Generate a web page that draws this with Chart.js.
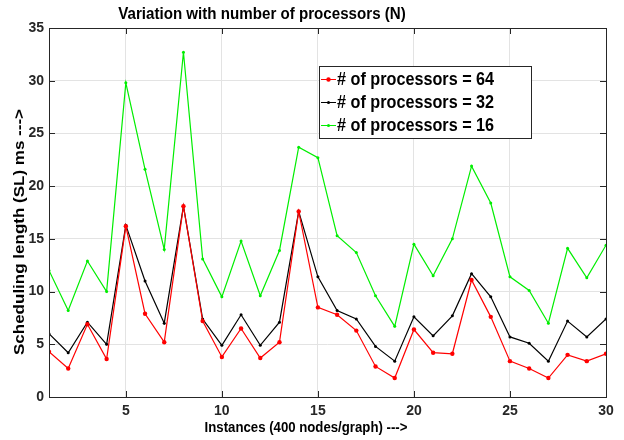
<!DOCTYPE html>
<html>
<head>
<meta charset="utf-8">
<script src="https://cdn.jsdelivr.net/npm/chart.js@4.4.1/dist/chart.umd.min.js"></script>
<style>
  html, body { margin: 0; padding: 0; background: #fff; }
  #wrap { width: 624px; height: 440px; }
</style>
</head>
<body>
<div id="wrap"><canvas id="slChart" width="624" height="440"></canvas></div>
<script>
// data
const instances = [1, 2, 3, 4, 5, 6, 7, 8, 9, 10, 11, 12, 13, 14, 15, 16, 17, 18, 19, 20, 21, 22, 23, 24, 25, 26, 27, 28, 29, 30];
const xTicks = [5, 10, 15, 20, 25, 30];
const yTicks = [0, 5, 10, 15, 20, 25, 30, 35];
const procs64 = [4.3, 2.7, 6.9, 3.6, 16.2, 7.9, 5.2, 18.1, 7.2, 3.8, 6.5, 3.7, 5.2, 17.6, 8.5, 7.8, 6.3, 2.9, 1.8, 6.4, 4.2, 4.1, 11.1, 7.6, 3.4, 2.7, 1.8, 4.0, 3.4, 4.1];
const procs32 = [6.0, 4.2, 7.1, 5.0, 16.3, 11.0, 7.0, 18.1, 7.4, 4.9, 7.8, 4.9, 7.1, 17.6, 11.4, 8.2, 7.4, 4.8, 3.4, 7.6, 5.8, 7.7, 11.7, 9.5, 5.7, 5.1, 3.4, 7.2, 5.7, 7.4];
const procs16 = [12.0, 8.2, 12.9, 10.0, 29.8, 21.6, 14.0, 32.7, 13.1, 9.5, 14.8, 9.6, 13.9, 23.7, 22.7, 15.3, 13.7, 9.6, 6.7, 14.5, 11.5, 15.0, 21.9, 18.4, 11.4, 10.1, 7.0, 14.1, 11.3, 14.4];

const seriesLabels = ['# of processors = 64', '# of processors = 32', '# of processors = 16'];
const seriesColors = ['#ff0000', '#000000', '#00ee00'];

const FONT = "'Liberation Sans', Arial, sans-serif";

function toPoints(vals) {
    return instances.map((x, i) => ({ x: x, y: vals[i] }));
}

// text squeezed horizontally (the source figure is narrow)
function narrowText(ctx, txt, x, y, sx, sy, angle) {
    ctx.save();
    ctx.translate(x, y);
    if (angle) ctx.rotate(angle);
    ctx.scale(sx, sy);
    ctx.fillText(txt, 0, 0);
    ctx.restore();
}

// box, inward ticks, title, axis titles and boxed legend (matlab look)
const matlabFrame = {
    id: 'matlabFrame',
    afterDraw(chart) {
        const ctx = chart.ctx;
        const a = chart.chartArea;
        const xs = chart.scales.x, ys = chart.scales.y;
        ctx.save();
        ctx.strokeStyle = '#262626';
        ctx.lineWidth = 1;
        ctx.strokeRect(Math.round(a.left) + 0.5, Math.round(a.top) + 0.5, Math.round(a.right - a.left), Math.round(a.bottom - a.top));
        ctx.beginPath();
        xTicks.forEach(v => {
            const px = Math.round(xs.getPixelForValue(v)) + 0.5;
            ctx.moveTo(px, a.top); ctx.lineTo(px, a.top + 6);
            ctx.moveTo(px, a.bottom); ctx.lineTo(px, a.bottom - 6);
        });
        yTicks.forEach(v => {
            const py = Math.round(ys.getPixelForValue(v)) + 0.5;
            ctx.moveTo(a.left, py); ctx.lineTo(a.left + 6, py);
            ctx.moveTo(a.right, py); ctx.lineTo(a.right - 6, py);
        });
        ctx.stroke();

        ctx.fillStyle = '#000';
        ctx.textAlign = 'center';
        ctx.textBaseline = 'middle';
        ctx.font = 'bold 17px ' + FONT;
        narrowText(ctx, 'Variation with number of processors (N)', 262, 14, 0.89, 1);

        ctx.font = 'bold 15px ' + FONT;
        narrowText(ctx, 'Instances (400 nodes/graph) --->', 306, 428, 0.88, 1);

        ctx.font = 'bold 17px ' + FONT;
        narrowText(ctx, 'Scheduling length (SL) ms --->', 20, 232, 1, 0.85, -Math.PI / 2);

        // legend
        const lx = 319.5, ly = 66.5, lw = 212, lh = 72;
        ctx.fillStyle = '#fff';
        ctx.fillRect(lx, ly, lw, lh);
        ctx.strokeStyle = '#262626';
        ctx.strokeRect(lx, ly, lw, lh);
        ctx.font = 'bold 18px ' + FONT;
        ctx.textAlign = 'left';
        chart.data.datasets.forEach((ds, i) => {
            const cy = 79 + i * 23;
            ctx.strokeStyle = ds.borderColor;
            ctx.beginPath();
            ctx.moveTo(321, cy + 0.5); ctx.lineTo(336, cy + 0.5);
            ctx.stroke();
            ctx.fillStyle = ds.borderColor;
            ctx.beginPath();
            ctx.arc(328.5, cy + 0.5, ds.pointRadius, 0, Math.PI * 2);
            ctx.fill();
            ctx.fillStyle = '#000';
            narrowText(ctx, ds.label, 337, cy + 1, 0.9, 1);
        });
        ctx.restore();
    }
};

const ctx = document.getElementById('slChart').getContext('2d');
const slChart = new Chart(ctx, {
    type: 'line',
    data: {
        datasets: [
            { label: seriesLabels[0], data: toPoints(procs64), borderColor: seriesColors[0], backgroundColor: seriesColors[0], borderWidth: 1.2, pointRadius: 2.2, pointBorderWidth: 0, tension: 0 },
            { label: seriesLabels[1], data: toPoints(procs32), borderColor: seriesColors[1], backgroundColor: seriesColors[1], borderWidth: 1.2, pointRadius: 1.5, pointBorderWidth: 0, tension: 0 },
            { label: seriesLabels[2], data: toPoints(procs16), borderColor: seriesColors[2], backgroundColor: seriesColors[2], borderWidth: 1.2, pointRadius: 1.5, pointBorderWidth: 0, tension: 0 }
        ]
    },
    options: {
        responsive: false,
        animation: false,
        layout: { padding: { top: 28, right: 18, left: 0, bottom: 0 } },
        scales: {
            x: {
                type: 'linear',
                min: 1,
                max: 30,
                afterBuildTicks: s => { s.ticks = xTicks.map(v => ({ value: v })); },
                afterFit: s => { s.height = 43; },
                grid: { color: '#e3e3e3', drawTicks: false },
                border: { display: false },
                ticks: { color: '#262626', padding: 6, font: { family: FONT, size: 14, weight: 'bold' } }
            },
            y: {
                min: 0,
                max: 35,
                afterBuildTicks: s => { s.ticks = yTicks.map(v => ({ value: v })); },
                afterFit: s => { s.width = 49; },
                grid: { color: '#e3e3e3', drawTicks: false },
                border: { display: false },
                ticks: { color: '#262626', padding: 5, font: { family: FONT, size: 14, weight: 'bold' } }
            }
        },
        plugins: {
            legend: { display: false },
            title: { display: false },
            tooltip: { enabled: false }
        }
    },
    plugins: [matlabFrame]
});
</script>
</body>
</html>
